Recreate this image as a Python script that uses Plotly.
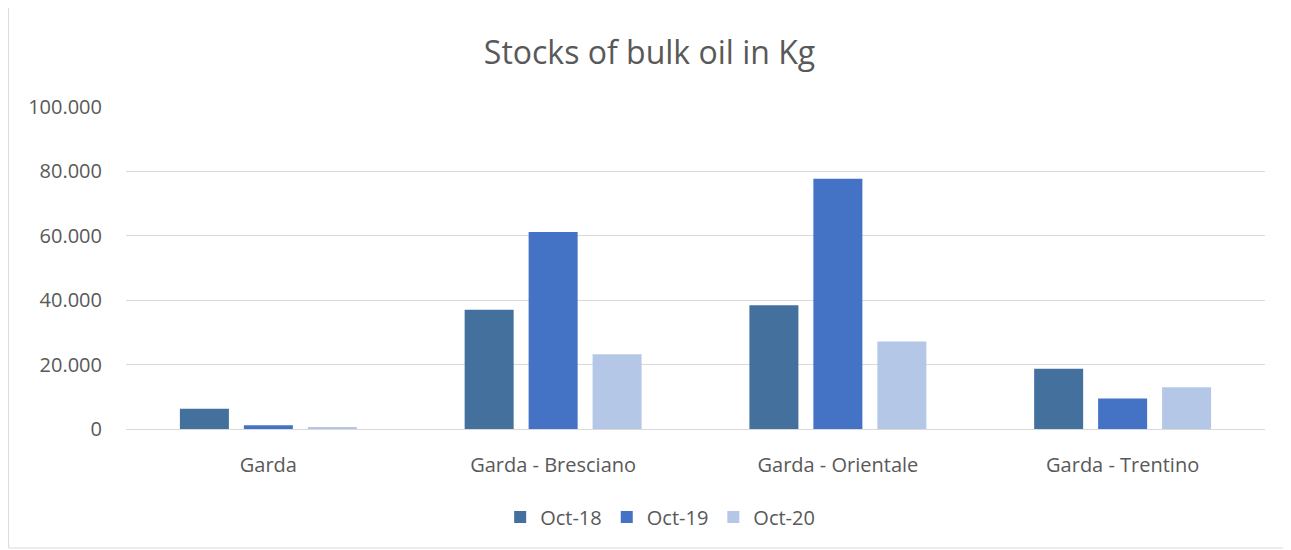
import plotly.graph_objects as go

categories = ["Garda", "Garda - Bresciano", "Garda - Orientale", "Garda - Trentino"]
series_names = ["Oct-18", "Oct-19", "Oct-20"]
oct18 = [6300, 37000, 38400, 18700]
oct19 = [1150, 61200, 77700, 9500]
oct20 = [500, 23200, 27200, 13000]
colors = ["#43709D", "#4472C4", "#B4C7E7"]
y_ticks = [0, 20000, 40000, 60000, 80000, 100000]

fig = go.Figure()
for name, vals, col in zip(series_names, [oct18, oct19, oct20], colors):
    fig.add_trace(go.Bar(x=categories, y=vals, name=name, marker=dict(color=col, line=dict(width=0))))

# page is offset by the 8px body margin
OFF = 8
W, H = 1291 - OFF, 550 - OFF
L, R, T, B = 125.5 - OFF, 25.5, 107 - OFF, 121
pw, ph = W - L - R, H - T - B

def px(x):
    return (x - OFF - L) / pw

def py(y):
    return (H - B - (y - OFF)) / ph

fig.update_layout(
    width=W, height=H,
    margin=dict(l=L, r=R, t=T, b=B),
    paper_bgcolor="white", plot_bgcolor="white",
    separators=",.",
    barmode="group", bargap=0.326, bargroupgap=0.234,
    font=dict(family="Open Sans", color="#595959", size=20),
    title=dict(text="Stocks of bulk oil in Kg", x=0.5, xanchor="center",
               y=1 - (53 - OFF) / H, yanchor="middle",
               font=dict(family="Open Sans", size=32, color="#595959")),
    legend=dict(orientation="h", x=px(500), xanchor="left", y=py(517), yanchor="middle",
                font=dict(size=20, color="#595959"), itemwidth=30, traceorder="normal"),
    xaxis=dict(showgrid=False, showline=True, linecolor="#D9D9D9", linewidth=1,
               ticks="", tickfont=dict(size=20, color="#595959"), ticklabelstandoff=18),
    yaxis=dict(range=[0, 100000], tickvals=y_ticks, tickformat=",d",
               showgrid=True, gridcolor="#D9D9D9", gridwidth=1, zeroline=False,
               showline=False, ticks="", tickfont=dict(size=20, color="#595959"),
               ticklabelstandoff=23),
    shapes=[dict(type="rect", xref="paper", yref="paper",
                 x0=px(8), x1=px(1285), y0=py(548), y1=py(5),
                 line=dict(color="#D9D9D9", width=1), fillcolor="rgba(0,0,0,0)", layer="below")],
)

fig.write_html("out.html")
